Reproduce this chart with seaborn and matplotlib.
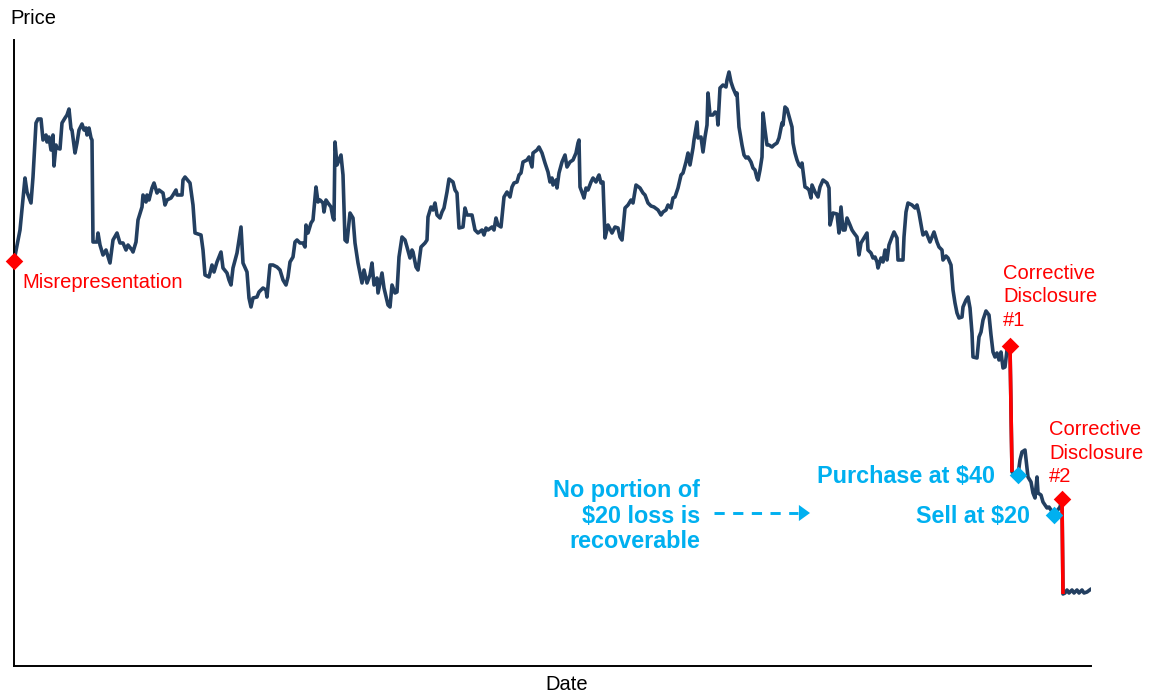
import matplotlib
matplotlib.use("Agg")
import matplotlib.pyplot as plt
import pandas as pd
import seaborn as sns

# Trading-day index and closing price of the illustrative stock
day = [
    0, 6, 11, 13, 17, 19, 22, 24, 27, 29,
    32, 33, 35, 37, 39, 40, 42, 43, 46, 48,
    51, 53, 55, 57, 58, 61, 63, 65, 68, 70,
    72, 73, 75, 77, 78, 79, 83, 84, 86, 89,
    92, 96, 99, 103, 106, 109, 112, 114, 118, 119,
    122, 124, 128, 129, 132, 133, 135, 138, 140, 143,
    145, 149, 151, 153, 157, 159, 162, 163, 168, 169,
    171, 176, 179, 181, 187, 189, 191, 195, 198, 200,
    203, 207, 209, 213, 215, 217, 219, 223, 227, 229,
    233, 235, 237, 239, 243, 245, 249, 252, 253, 256,
    259, 263, 266, 269, 272, 274, 276, 279, 281, 283,
    286, 289, 291, 292, 294, 297, 299, 302, 304, 306,
    309, 310, 312, 314, 317, 319, 320, 321, 323, 325,
    327, 329, 331, 333, 336, 339, 341, 344, 348, 350,
    353, 356, 358, 360, 363, 364, 368, 370, 374, 376,
    378, 381, 383, 385, 388, 391, 393, 396, 398, 399,
    402, 404, 407, 411, 413, 414, 417, 419, 421, 423,
    426, 428, 430, 433, 435, 439, 441, 443, 445, 449,
    451, 453, 458, 461, 464, 468, 470, 472, 474, 478,
    480, 482, 484, 487, 490, 493, 496, 498, 500, 503,
    505, 507, 509, 513, 515, 518, 519, 523, 525, 528,
    531, 534, 536, 538, 539, 542, 543, 545, 548, 551,
    553, 556, 559, 562, 564, 565, 566, 569, 570, 572,
    574, 577, 579, 582, 584, 585, 587, 589, 591, 594,
    598, 601, 604, 606, 608, 611, 614, 617, 619, 622,
    626, 629, 631, 634, 637, 640, 644, 647, 649, 652,
    654, 657, 659, 661, 664, 667, 669, 672, 674, 676,
    679, 680, 683, 684, 687, 689, 691, 693, 694, 696,
    699, 701, 703, 704, 706, 709, 712, 713, 715, 717,
    719, 722, 723, 725, 728, 730, 732, 734, 737, 739,
    741, 743, 744, 746, 748, 749, 751, 753, 755, 758,
    760, 763, 765, 768, 769, 771, 773, 776, 778, 779,
    781, 783, 785, 787, 788, 791, 793, 795, 797, 798,
    801, 804, 806, 809, 813, 815, 816, 818, 819, 823,
    825, 827, 829, 831, 833, 836, 838, 840, 843, 845,
    847, 850, 853, 854, 857, 859, 861, 863, 864, 867,
    869, 871, 873, 875, 878, 880, 883, 884, 889, 890,
    892, 894, 898, 901, 903, 905, 908, 909, 912, 914,
    916, 918, 920, 923, 925, 928, 929, 932, 934, 937,
    939, 941, 943, 945, 948, 949, 952, 954, 956, 958,
    959, 963, 965, 967, 969, 972, 975, 977, 979, 981,
    983, 985, 987, 989, 991, 993, 996, 998, 1004, 1006,
    1008, 1011, 1013, 1014, 1017, 1019, 1021, 1023, 1024, 1027,
    1029, 1031, 1033, 1035, 1037, 1040, 1043, 1046, 1048, 1049,
    1051, 1053, 1055, 1058, 1060, 1063, 1065, 1068, 1070, 1073,
    1077,
]
price = [
    147.0, 162.5, 188.5, 181.5, 176.0, 189.0, 216.0, 218.0, 218.0, 207.5,
    210.0, 206.5, 209.0, 202.5, 210.0, 194.5, 205.0, 203.5, 203.0, 216.0,
    218.5, 220.0, 223.0, 213.0, 212.5, 201.0, 206.0, 212.5, 215.5, 212.5,
    213.5, 210.0, 213.5, 208.5, 207.5, 156.5, 156.5, 161.0, 155.0, 150.0,
    152.5, 146.0, 157.5, 161.0, 156.0, 156.0, 152.5, 155.0, 152.5, 151.5,
    156.5, 167.5, 174.0, 180.0, 176.5, 180.0, 177.5, 183.5, 186.0, 181.0,
    182.5, 181.0, 175.0, 177.5, 178.5, 180.0, 182.5, 180.0, 180.0, 187.5,
    189.0, 186.0, 175.0, 161.0, 160.0, 152.5, 140.0, 139.0, 145.0, 141.5,
    146.5, 151.5, 143.5, 141.0, 137.5, 135.0, 143.5, 151.0, 164.0, 146.0,
    141.5, 128.5, 124.0, 128.5, 129.0, 131.5, 133.5, 132.5, 129.0, 145.0,
    145.0, 144.0, 142.5, 137.5, 135.0, 139.0, 146.5, 149.0, 156.5, 157.5,
    156.0, 156.0, 154.0, 165.0, 161.0, 166.0, 167.5, 184.0, 176.5, 177.5,
    176.0, 171.5, 177.5, 176.0, 174.0, 168.5, 167.5, 206.5, 195.0, 197.5,
    200.0, 190.0, 157.5, 156.5, 171.0, 168.5, 156.0, 146.0, 136.0, 142.5,
    136.0, 140.0, 146.0, 135.0, 138.5, 131.0, 141.0, 133.5, 125.0, 124.0,
    135.0, 131.0, 131.5, 149.0, 159.0, 157.5, 154.0, 148.5, 152.5, 151.5,
    144.0, 142.5, 154.0, 156.0, 157.5, 169.0, 174.0, 172.5, 176.0, 170.0,
    168.5, 171.5, 173.5, 181.5, 188.0, 186.5, 182.5, 181.0, 163.5, 164.0,
    173.5, 170.0, 170.0, 162.5, 161.0, 162.5, 160.0, 163.5, 162.5, 164.0,
    162.5, 168.5, 165.0, 164.0, 179.0, 181.5, 179.0, 184.0, 186.0, 186.5,
    190.0, 191.0, 196.5, 197.5, 199.0, 194.0, 201.0, 202.5, 204.0, 201.0,
    196.0, 191.5, 186.5, 188.5, 185.0, 187.5, 183.5, 191.0, 196.5, 200.0,
    194.0, 196.5, 197.5, 201.0, 206.0, 207.5, 184.0, 180.0, 178.5, 183.5,
    182.5, 186.5, 188.5, 186.5, 189.0, 190.0, 186.0, 186.5, 158.5, 165.0,
    161.0, 164.0, 163.5, 159.0, 157.5, 173.5, 175.0, 177.5, 176.0, 185.0,
    183.5, 181.0, 180.0, 176.0, 174.5, 174.0, 172.5, 170.0, 171.5, 172.5,
    175.0, 173.5, 178.5, 179.0, 183.5, 190.0, 191.0, 196.5, 201.0, 195.0,
    203.5, 207.5, 216.5, 208.5, 209.0, 201.5, 209.0, 215.0, 231.0, 220.0,
    220.0, 221.5, 221.0, 215.0, 233.5, 235.0, 234.0, 237.5, 241.5, 236.5,
    233.5, 230.0, 231.0, 214.0, 205.0, 200.0, 198.5, 199.0, 196.5, 193.5,
    192.5, 188.5, 187.5, 192.5, 199.0, 221.0, 212.5, 205.0, 205.0, 204.0,
    205.0, 206.0, 208.5, 216.0, 215.0, 224.0, 223.0, 217.5, 214.0, 206.0,
    201.0, 197.5, 195.0, 194.0, 196.0, 184.0, 183.5, 182.5, 178.5, 185.0,
    181.5, 179.0, 184.0, 187.5, 186.0, 183.5, 165.0, 169.0, 171.0, 170.5,
    161.0, 174.0, 162.5, 162.5, 168.5, 165.0, 162.5, 161.0, 159.0, 150.0,
    156.0, 158.5, 161.0, 152.5, 151.0, 148.5, 149.0, 146.5, 143.5, 148.5,
    146.5, 152.5, 147.5, 155.0, 159.0, 161.5, 158.5, 147.5, 147.5, 159.0,
    171.5, 176.0, 175.0, 173.5, 175.0, 171.0, 162.5, 160.0, 161.5, 159.0,
    156.5, 159.0, 161.5, 156.5, 154.0, 152.5, 147.5, 149.5, 148.5, 145.0,
    132.5, 126.0, 121.0, 118.5, 119.0, 124.0, 127.5, 129.0, 123.5, 111.0,
    99.0, 98.5, 109.0, 111.5, 117.5, 122.0, 120.0, 110.0, 101.5, 99.0,
    101.0, 97.5, 101.5, 93.5, 94.0, 102.5, 104.5, 41.5, 40.0, 47.5,
    51.5, 52.5, 43.5, 39.0, 36.5, 31.0, 28.5, 39.0, 31.0, 30.0,
    26.5, 25.0, 23.5, 24.0, 22.5, 20.0, 22.0, 24.0, 28.0, -19.5,
    -19.0, -17.5, -19.0, -17.5, -19.0, -17.5, -19.0, -17.5, -19.0, -18.5,
    -17.0,
]

# Key dates on the trading-day index
misrep_day = 0
disclosure_days = [996, 1048]
purchase_day = 1004
sell_day = 1040

NAVY = "#233F60"
RED = "#FF0000"
CYAN = "#00B0F0"

sns.set_theme(style="white")
plt.rcParams["font.family"] = ["Liberation Sans", "DejaVu Sans"]

fig = plt.figure(figsize=(11.5, 6.93), dpi=100)
ax = fig.add_axes([14 / 1150, 27 / 693, 1077 / 1150, 626 / 693])

series = pd.DataFrame({"day": day, "price": price})
lookup = series.set_index("day")["price"]

sns.lineplot(data=series, x="day", y="price", color=NAVY, linewidth=2.6,
             estimator=None, sort=False, ax=ax,
             solid_capstyle="round", solid_joinstyle="round")

# Price drops on each corrective disclosure, traced in red
for d in disclosure_days:
    i = series.index[series["day"] == d][0]
    seg = series.iloc[i:i + 2]
    ax.plot(seg["day"], seg["price"], color=RED, linewidth=2.6, zorder=3,
            solid_capstyle="butt")

red_pts = pd.DataFrame({"day": [misrep_day] + disclosure_days})
red_pts["price"] = lookup.loc[red_pts["day"]].values
blue_pts = pd.DataFrame({"day": [purchase_day, sell_day]})
blue_pts["price"] = lookup.loc[blue_pts["day"]].values

sns.scatterplot(data=red_pts, x="day", y="price", marker="D", s=80,
                color=RED, linewidth=0, zorder=5, clip_on=False, ax=ax)
sns.scatterplot(data=blue_pts, x="day", y="price", marker="D", s=80,
                color=CYAN, linewidth=0, zorder=5, clip_on=False, ax=ax)

red_txt = dict(fontsize=14.5, color=RED, textcoords="offset points")
ax.annotate("Misrepresentation", (misrep_day, lookup[misrep_day]),
            xytext=(5.8, -15.8), ha="left", va="center", **red_txt)
ax.annotate("Corrective\nDisclosure\n#1",
            (disclosure_days[0], lookup[disclosure_days[0]]),
            xytext=(-5.0, 35.3), ha="left", va="center", linespacing=1.28,
            **red_txt)
ax.annotate("Corrective\nDisclosure\n#2",
            (disclosure_days[1], lookup[disclosure_days[1]]),
            xytext=(-9.4, 33.1), ha="left", va="center", linespacing=1.28,
            **red_txt)

blue_txt = dict(fontsize=16.8, color=CYAN, fontweight="bold",
                textcoords="offset points")
ax.annotate(f"Purchase at ${lookup[purchase_day]:.0f}",
            (purchase_day, lookup[purchase_day]),
            xytext=(-16.6, -1.4), ha="right", va="center", **blue_txt)
ax.annotate(f"Sell at ${lookup[sell_day]:.0f}",
            (sell_day, lookup[sell_day]),
            xytext=(-17.3, -1.4), ha="right", va="center", **blue_txt)

loss = lookup[purchase_day] - lookup[sell_day]
ax.text(0.637, 0.2396, f"No portion of\n${loss:.0f} loss is\nrecoverable",
        transform=ax.transAxes, ha="right", va="center", multialignment="right",
        fontsize=16.8, fontweight="bold", color=CYAN, linespacing=1.16)

# Dashed pointer towards the purchase/sale window
arrow_y = 0.2444
ax.plot([0.6500, 0.7275], [arrow_y, arrow_y], transform=ax.transAxes,
        color=CYAN, linewidth=2.1, linestyle=(0, (3.5, 2.9)),
        dash_capstyle="butt")
ax.annotate("", xy=(0.7391, arrow_y), xytext=(0.7288, arrow_y),
            xycoords="axes fraction", textcoords="axes fraction",
            arrowprops=dict(arrowstyle="-|>,head_length=0.4,head_width=0.29",
                            mutation_scale=20, linewidth=0, color=CYAN,
                            shrinkA=0, shrinkB=0))

ax.set_xlim(0, 1077)
ax.set_ylim(-55.5, 257.5)
ax.set_xticks([])
ax.set_yticks([])

ax.set_xlabel("Date", fontsize=14.5, color="black")
ax.xaxis.set_label_coords(0.5135, -0.029)
ax.xaxis.label.set_va("center")
ax.set_ylabel("Price", fontsize=14.5, color="black", rotation=0,
              ha="left", va="center")
ax.yaxis.set_label_coords(-0.0037, 1.034)

sns.despine(ax=ax)
for side in ("left", "bottom"):
    ax.spines[side].set_color("black")
    ax.spines[side].set_linewidth(1.4)

fig.savefig("out.png", dpi=100)
